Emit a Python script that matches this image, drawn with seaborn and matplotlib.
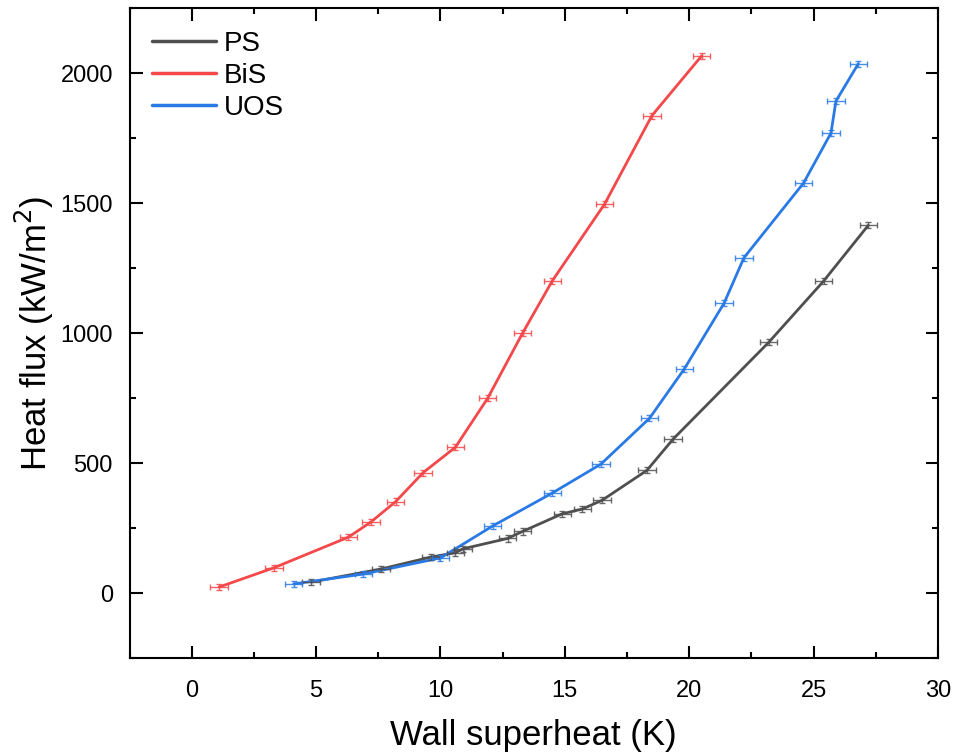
import numpy as np
import pandas as pd
import seaborn as sns
import matplotlib.pyplot as plt
from matplotlib.ticker import MultipleLocator

# wall superheat (K) and heat flux (kW/m2)
ps_x = [4.8, 7.6, 9.6, 10.6, 10.9, 12.7, 13.3, 14.9, 15.7, 16.5, 18.3, 19.35, 23.2, 25.4, 27.2]
ps_y = [42, 92, 138, 155, 170, 210, 237, 305, 323, 357, 472, 592, 965, 1200, 1415]

bis_x = [1.1, 3.3, 6.3, 7.2, 8.2, 9.3, 10.6, 11.9, 13.3, 14.5, 16.6, 18.5, 20.5]
bis_y = [23, 97, 215, 273, 352, 463, 561, 750, 1000, 1202, 1497, 1837, 2067]

uos_x = [4.1, 6.9, 10.0, 12.1, 14.5, 16.45, 18.4, 19.8, 21.4, 22.2, 24.6, 25.7, 25.9, 26.8]
uos_y = [35, 73, 135, 258, 385, 496, 672, 862, 1115, 1290, 1578, 1770, 1893, 2037]

x_err = 0.35
y_err = 12

series = ["PS", "BiS", "UOS"]
colors = {"PS": "#4f4f4f", "BiS": "#f4484a", "UOS": "#2a7ae6"}

df = pd.concat([
    pd.DataFrame({"x": ps_x, "y": ps_y, "sample": "PS"}),
    pd.DataFrame({"x": bis_x, "y": bis_y, "sample": "BiS"}),
    pd.DataFrame({"x": uos_x, "y": uos_y, "sample": "UOS"}),
], ignore_index=True)

sns.set_theme(style="ticks")
plt.rcParams['font.family'] = ['Liberation Sans', 'DejaVu Sans']
plt.rcParams.update({'text.color': 'black', 'axes.labelcolor': 'black',
                     'xtick.color': 'black', 'ytick.color': 'black',
                     'axes.edgecolor': 'black'})

fig, ax = plt.subplots(figsize=(9.6, 7.55), dpi=100)
fig.subplots_adjust(left=0.135, right=0.977, top=0.989, bottom=0.1285)

sns.lineplot(data=df, x="x", y="y", hue="sample", hue_order=series, palette=colors,
             sort=False, estimator=None, linewidth=2, ax=ax)

for name, group in df.groupby("sample"):
    ax.errorbar(group["x"], group["y"], xerr=x_err, yerr=y_err, fmt='none',
                ecolor=colors[name], elinewidth=1, capsize=2.5, capthick=1, alpha=0.85)

ax.set_xlim(-2.5, 30)
ax.set_ylim(-250, 2250)
ax.xaxis.set_major_locator(MultipleLocator(5))
ax.xaxis.set_minor_locator(MultipleLocator(2.5))
ax.yaxis.set_major_locator(MultipleLocator(500))
ax.yaxis.set_minor_locator(MultipleLocator(250))
ax.tick_params(which='both', direction='in', top=True, right=True, width=1.5, labelsize=17)
ax.tick_params(axis='x', pad=16)
ax.tick_params(axis='y', pad=12)
ax.tick_params(which='major', length=9)
ax.tick_params(which='minor', length=4.5)
for s in ax.spines.values():
    s.set_linewidth(1.5)

ax.set_xlabel("Wall superheat (K)", fontsize=25, labelpad=12)
ax.set_ylabel("Heat flux (kW/m$^2$)", fontsize=25, labelpad=3)

leg = ax.legend(loc='upper left', frameon=False, fontsize=20, handlelength=2.3,
                handletextpad=0.3, borderaxespad=0.4, labelspacing=0.22)
for h in leg.get_lines():
    h.set_linewidth(2.5)

plt.savefig("out.png", dpi=100)
